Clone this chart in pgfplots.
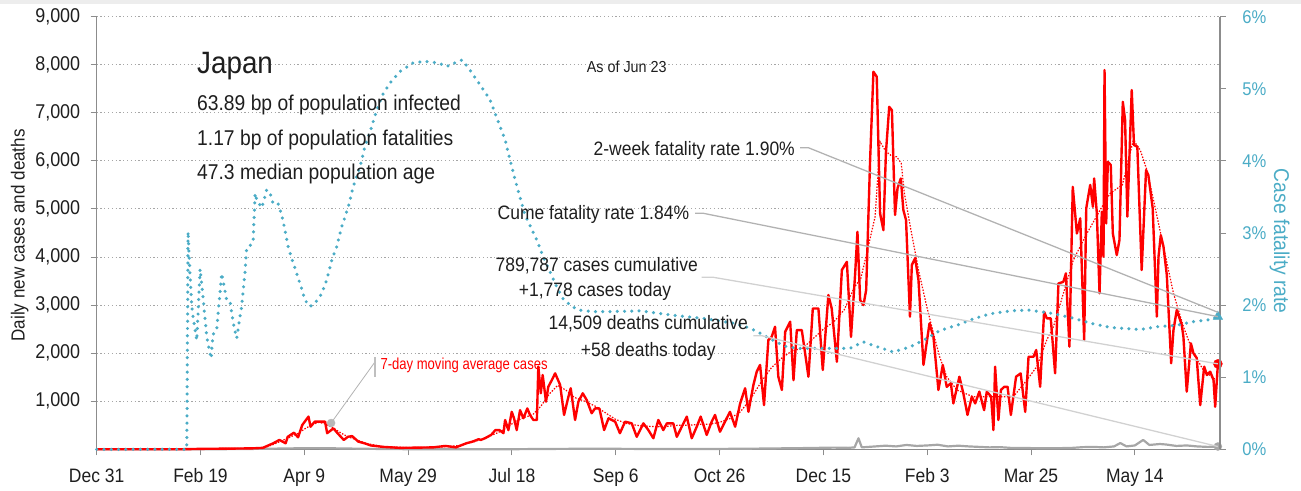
\documentclass[border=0pt]{standalone}
\usepackage{fontspec}
\setmainfont{Liberation Sans}[FakeStretch=0.9]
\newfontfamily\narrowfont{Liberation Sans}[FakeStretch=0.82]
\usepackage{pgfplots}
\pgfplotsset{compat=1.18}
\definecolor{cred}{RGB}{255,0,0}
\definecolor{cblue}{RGB}{75,172,198}
\definecolor{cgray}{RGB}{166,166,166}
\definecolor{axgray}{RGB}{140,140,140}
\definecolor{txt}{RGB}{30,30,30}
\begin{document}
\begin{tikzpicture}
\fill[black!7] (-96.7bp,445.5bp) rectangle (1204.3bp,449.3bp);
\begin{axis}[
  at={(0,0)}, anchor=south west, scale only axis,
  width=1123.3bp, height=432.6bp,
  xmin=0, xmax=541, ymin=0, ymax=9000,
  clip=false,
  axis x line*=bottom, axis y line*=left,
  axis line style={-, draw=axgray, line width=1.3pt},
  tick align=outside, major tick length=6bp,
  tick style={axgray, line width=1pt},
  xtick={0,50,...,500},
  xticklabels={Dec 31,Feb 19,Apr 9,May 29,Jul 18,Sep 6,Oct 26,Dec 15,Feb 3,Mar 25,May 14},
  ytick={1000,2000,...,9000},
  ymajorgrids,
  grid style={draw=black!35, line width=1pt, dash pattern=on 1.2pt off 2.6pt},
  /pgf/number format/1000 sep={,},
  /pgf/number format/assume math mode=true,
  ticklabel style={text=txt},
  xticklabel style={font=\fontsize{19.5}{20}\selectfont},
  yticklabel style={font=\fontsize{20}{20}\selectfont},
  xticklabel shift=10bp, yticklabel shift=7bp,
]
% deaths
\addplot[cgray, line width=2.2pt, line join=round] coordinates {
(0,0)(50,0)(60,2)(80,10)(95,20)(105,25)(115,20)(130,10)(150,2)(200,2)(220,8)(240,12)(260,8)(280,6)(300,8)(320,15)(340,25)(355,35)(362,30)(365,40)(366.9,229)(368.5,40)(375,60)(380,75)(385,60)(390,90)(395,70)(400,80)(405,95)(410,60)(415,75)(420,60)(425,50)(430,40)(435,45)(440,30)(450,25)(460,20)(470,30)(475,45)(480,50)(485,40)(490,60)(493,130)(496,60)(500,80)(504,195)(507,90)(512,110)(515,100)(520,70)(525,80)(530,60)(535,50)(540,58)};
% 7-day moving average
\addplot[cred, line width=1.2pt, dash pattern=on 1.5pt off 1.5pt] coordinates {
(0,0)(80,20)(85,100)(92,230)(97,330)(100,420)(104,520)(107,560)(110,530)(114,440)(118,330)(121,260)(125,200)(130,120)(138,55)(150,35)(165,45)(175,80)(182,160)(188,250)(195,380)(200,530)(205,650)(210,720)(214,900)(218,1150)(222,1330)(226,1230)(230,1080)(235,1000)(240,900)(245,760)(250,620)(255,540)(260,500)(265,480)(270,470)(275,480)(280,500)(285,500)(290,520)(295,520)(300,560)(305,640)(310,780)(315,1050)(320,1400)(325,1700)(330,1900)(335,2050)(340,2100)(345,2300)(350,2500)(355,2650)(360,2900)(365,3380)(368,3550)(371,4100)(374.9,4840)(377.3,6400)(380,6200)(383,6100)(385.3,6085)(387.5,5950)(389,5325)(392,4600)(395.8,3730)(399.8,2965)(403,2410)(406,1925)(409.4,1510)(414.3,1235)(422,1095)(430,1095)(441.5,1095)(448,1440)(452.8,1720)(457.6,2275)(460.8,2550)(465.6,3245)(470.4,3940)(476.9,4490)(483.3,4980)(488.1,5325)(494,5500)(499.3,6435)(502.6,6225)(505.8,5810)(509,5185)(513.8,4215)(518.6,3245)(523.4,2550)(528.2,2000)(533,1650)(537.9,1475)(540,1450)};
% daily cases
\addplot[cred, line width=2.4pt, line join=round] coordinates {
(0,0)(40,0)(51,10)(66,15)(75,20)(80,30)(85,125)(88,195)(91,125)(92,260)(95,345)(97,250)(99,505)(102,680)(103,470)(105,575)(107,575)(110,575)(111,335)(114,435)(116,335)(119,195)(121,260)(123,275)(126,160)(129,125)(132,80)(138,50)(146,30)(155,35)(162,40)(168,70)(173,40)(178,125)(181,160)(184,210)(185,195)(187,230)(190,300)(192,400)(194,400)(195.9,335)(196.7,610)(198.3,400)(199.9,780)(201,645)(202.3,400)(203.9,815)(205.5,645)(207.4,850)(208.7,715)(210.3,610)(212,610)(212.7,1720)(213.9,1165)(214.8,1545)(216.4,990)(217.5,1300)(219.2,1440)(220.8,1580)(223.2,1340)(225.1,715)(227.2,1095)(228.3,1270)(230.4,610)(232,990)(234.1,1165)(236,1025)(238.4,750)(240,850)(242.1,850)(244.4,400)(246.5,645)(249.7,575)(252,335)(254.5,575)(257.7,540)(260.1,260)(263.3,540)(265.7,400)(268.1,230)(270.5,610)(272.9,400)(274.6,540)(277.7,540)(279.4,260)(281.8,470)(284.2,680)(286.6,230)(289,470)(290.9,680)(293.8,300)(296.2,575)(297.8,715)(300.2,365)(302.6,575)(305,780)(307.5,470)(309.9,955)(312.3,1270)(313.9,780)(316.3,1340)(317.9,1615)(319.5,1755)(321.4,920)(323.5,2275)(325.1,2340)(326.7,2550)(328.3,1510)(330,1235)(331.6,2445)(334,2655)(335.6,1440)(337.2,2480)(339.6,2480)(342.8,1510)(344.9,2930)(347.6,2930)(349.7,1650)(352.4,3210)(354,2930)(356.5,1820)(358.9,3730)(361.3,3900)(363.3,2340)(365.3,3660)(366.4,4525)(367.7,3105)(369.3,3000)(370.6,3315)(372.5,6020)(374.1,7855)(375.7,7750)(377.3,4910)(378.9,4560)(380.1,6155)(381.7,7125)(383,7055)(384.5,4875)(385.7,5430)(387.3,5635)(388.5,4980)(389.8,4770)(391.7,2760)(392.6,3835)(394.2,3975)(395.8,3520)(398.2,1755)(401.1,2620)(403,2340)(405.4,1235)(407.5,1755)(409.4,1300)(411.4,1375)(412.6,955)(415.5,1510)(417.4,1165)(419.4,715)(421.5,1095)(423.1,955)(425.1,1200)(427.4,815)(428.7,1200)(430.8,1095)(431.9,400)(432.7,1720)(434.3,610)(435.5,1235)(437.1,1300)(438.7,1300)(440.3,715)(442.8,1510)(445,1580)(447.2,780)(448.8,1925)(451.2,1925)(452.5,2065)(454.4,1300)(456.3,2860)(457.6,2725)(459.5,2725)(461.6,1580)(463.2,3450)(465.6,3485)(466.8,3660)(468.5,2135)(470.1,5460)(472.1,4490)(473.7,4805)(475.6,2275)(476.6,5015)(478.5,5500)(479.8,5045)(480.4,5635)(481.7,4910)(483,3245)(484.1,4940)(484.9,4005)(485.4,7890)(486.2,4700)(487,5980)(488.4,5915)(489.4,4490)(491.3,4040)(492.6,4355)(494.2,7230)(495.3,6850)(496.4,4840)(498.5,7475)(499.6,6330)(501.2,6295)(503.3,3730)(505.4,5810)(506.5,5705)(508.6,5015)(510.6,2760)(511.4,4005)(512.5,4455)(513.8,4215)(515.4,3625)(517.5,1790)(518.6,2480)(520.2,2900)(522.6,2585)(523.4,2340)(525,1200)(527,2205)(528.2,2000)(529.8,1900)(531.5,920)(533.4,1720)(534.7,1545)(536.3,1615)(537.9,1440)(538.7,885)(540,1778)};
% callout for moving average
\draw[black!30, line width=0.8pt] (axis cs:112.9,547) -- (axis cs:134.1,1822);
\draw[black!25, line width=1.5pt] (axis cs:134.1,1510) -- (axis cs:134.1,1926);
\addplot[only marks, mark=*, mark size=4bp, color=black!28] coordinates {(112.9,547)};
\node[anchor=west, text=cred, font=\fontsize{16}{16}\narrowfont, inner sep=0] at (axis cs:136.6,1753) {7-day moving average cases};
% end markers
\addplot[only marks, mark=*, mark size=4.5bp, color=cred] coordinates {(540,1778)};
\addplot[only marks, mark=*, mark size=4bp, color=black!35] coordinates {(540,58)};
\coordinate (ecase) at (axis cs:540,1778);
\coordinate (edeath) at (axis cs:540,58);
\end{axis}
\begin{axis}[
  at={(0,0)}, anchor=south west, scale only axis,
  width=1123.3bp, height=432.6bp,
  xmin=0, xmax=541, ymin=0, ymax=6,
  clip=false,
  axis x line=none, axis y line*=right,
  axis line style={-, draw=axgray, line width=1.3pt},
  tick align=outside, major tick length=6bp,
  tick style={axgray, line width=1pt},
  ytick={0,1,...,6},
  yticklabel={\pgfmathprintnumber{\tick}\%},
  /pgf/number format/assume math mode=true,
  yticklabel style={text=cblue, font=\fontsize{18.5}{19}\selectfont},
  yticklabel shift=13bp,
]
\addplot[cblue, line width=3.5pt, line cap=round, dash pattern=on 0pt off 7.3pt] coordinates {
(0,0)(43.4,0)(44,3.02)(44.9,2.45)(45.8,1.98)(46.4,1.84)(48.2,1.51)(49.8,2.50)(51.2,2.11)(53,1.56)(55.1,1.26)(56,1.59)(57.8,1.66)(60.2,2.44)(62.6,2.07)(64.2,2.05)(65.8,1.75)(67.4,1.54)(69.8,1.98)(71.4,2.44)(72.2,2.79)(75.3,2.86)(76.3,3.55)(77.1,3.46)(79.5,3.35)(81.9,3.60)(83.5,3.55)(84.9,3.41)(87.3,3.41)(89.1,3.25)(90.7,3.04)(92.1,2.82)(93.9,2.65)(96.3,2.44)(98.7,2.23)(100.3,2.07)(102.7,1.98)(105.2,2.03)(108.4,2.16)(110.8,2.35)(113.2,2.62)(115.6,2.81)(118,3.09)(121.2,3.36)(123.5,3.64)(126.8,3.92)(129.2,4.20)(132.5,4.48)(134.9,4.71)(138.1,4.94)(141.3,5.08)(146.1,5.24)(152.4,5.36)(158.1,5.38)(164.4,5.36)(168.6,5.31)(172.6,5.36)(176,5.40)(179.8,5.26)(189.4,4.85)(196.7,4.29)(201.5,3.74)(206.3,3.25)(212,2.90)(215,2.67)(218.4,2.46)(221.6,2.25)(224.6,2.09)(228.8,1.98)(232.8,1.93)(238.7,1.91)(248.6,1.91)(261.7,1.92)(277.3,1.86)(293.8,1.81)(306.5,1.75)(314.7,1.68)(319.5,1.61)(325.8,1.51)(332.4,1.42)(338.8,1.40)(349.9,1.40)(362.9,1.40)(369.2,1.49)(374,1.44)(383.6,1.35)(391.8,1.42)(398.1,1.51)(406.3,1.65)(414.3,1.72)(422.2,1.81)(430.4,1.88)(439.9,1.92)(449.6,1.93)(459.2,1.89)(468.8,1.83)(478.5,1.75)(488.1,1.69)(502.6,1.66)(510.6,1.70)(520.2,1.72)(528.1,1.77)(536.3,1.80)(540,1.84)};
\addplot[only marks, mark=triangle*, mark size=5.5bp, color=cblue] coordinates {(540,1.84)};
\coordinate (ecfr) at (axis cs:540,1.84);
\coordinate (etwo) at (axis cs:540,1.90);
\end{axis}
% connectors
\draw[black!30, line width=1.3pt] (703.3bp,301.6bp) -- (711.6bp,301.6bp) -- (etwo);
\draw[black!30, line width=1.3pt] (598.3bp,236bp) -- (606.6bp,236bp) -- (ecfr);
\draw[black!18, line width=1.3pt] (605bp,172bp) -- (616.6bp,172bp) -- (ecase);
\draw[black!18, line width=1.3pt] (656.6bp,113.6bp) -- (665bp,113.6bp) -- (edeath);
% texts
\begin{scope}[every node/.style={inner sep=0, text=txt}]
\node[anchor=base west, font=\fontsize{31}{31}\selectfont] at (100.3bp,376bp) {Japan};
\node[anchor=base west, font=\fontsize{21.5}{22}\selectfont] at (100.3bp,338.3bp) {63.89 bp of population infected};
\node[anchor=base west, font=\fontsize{21.5}{22}\selectfont] at (100.3bp,303.6bp) {1.17 bp of population fatalities};
\node[anchor=base west, font=\fontsize{21.5}{22}\selectfont] at (100.3bp,269.3bp) {47.3 median population age};
\node[anchor=base west, font=\fontsize{16}{16}\selectfont] at (490bp,376.6bp) {As of Jun 23};
\node[anchor=base east, font=\fontsize{19.5}{20}\selectfont] at (698.3bp,293.3bp) {2-week fatality rate 1.90\%};
\node[anchor=base east, font=\fontsize{19.5}{20}\selectfont] at (592.6bp,229.3bp) {Cume fatality rate 1.84\%};
\node[anchor=base, font=\fontsize{19.5}{20}\selectfont] at (500bp,177.6bp) {789,787 cases cumulative};
\node[anchor=base, font=\fontsize{19.5}{20}\selectfont] at (498.3bp,152.6bp) {+1,778 cases today};
\node[anchor=base, font=\fontsize{19.5}{20}\selectfont] at (551.6bp,119.3bp) {14,509 deaths cumulative};
\node[anchor=base, font=\fontsize{19.5}{20}\selectfont] at (551.6bp,92.6bp) {+58 deaths today};
\node[rotate=90, font=\fontsize{19}{19}\selectfont] at (-77bp,214bp) {Daily new cases and deaths};
\node[rotate=-90, font=\fontsize{21.5}{22}\selectfont, text=cblue] at (1183bp,208bp) {Case fatality rate};
\end{scope}
\pgfresetboundingbox
\path[use as bounding box] (-96.7bp,-41.7bp) rectangle (1204.3bp,449.3bp);
\end{tikzpicture}
\end{document}
